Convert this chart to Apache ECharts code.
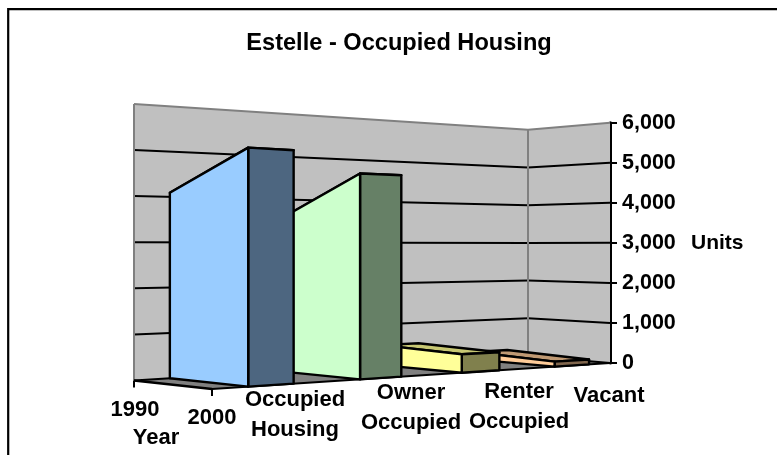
<!DOCTYPE html>
<html>
<head>
<meta charset="utf-8">
<style>html,body{margin:0;padding:0;background:#fff}#c{width:777px;height:455px}</style>
<script src="https://cdn.jsdelivr.net/npm/echarts@6/dist/echarts.min.js"></script>
</head>
<body>
<div id="c"></div>
<script>
// ---- data ----
const years = ['1990', '2000'];
const housingTypes = ['Occupied\nHousing', 'Owner\nOccupied', 'Renter\nOccupied', 'Vacant'];
const values1990 = [4095, 3556, 490, 190];
const values2000 = [4900, 4474, 422, 120];
const valueTicks = [0, 1000, 2000, 3000, 4000, 5000, 6000];
const chartTitle = 'Estelle - Occupied Housing';
const valueAxisName = 'Units';
const yearAxisName = 'Year';

// ---- scene geometry (pixel offsets from the value axis origin) ----
const AXIS_X = 610, BASE_Y = 363;
const floorL = [134 - AXIS_X, 380.5 - BASE_Y];  // 1990, front
const floorN = [212 - AXIS_X, 389 - BASE_Y];    // 2000, front
const floorR = [0, 0];                          // 2000, back
const floorB = [528 - AXIS_X, 356 - BASE_Y];    // 1990, back
const PG = -0.072, PH = 0.223, PC = 0.2;
const SLOT = 0.2535, GAP = 0.077, DEPTH = 0.1;
const FONT = 'Liberation Sans';
const faceColors = [
  {front: '#99ccff', side: '#4d6680', top: '#7399bf'},
  {front: '#ccffcc', side: '#668066', top: '#99bf99'},
  {front: '#ffff99', side: '#80804d', top: '#c8c873'},
  {front: '#ffcc99', side: '#80664d', top: '#bf9973'}
];
const lerp = (a, b, t) => [a[0] + (b[0] - a[0]) * t, a[1] + (b[1] - a[1]) * t];

function projector(api) {
  const o = api.coord([AXIS_X, 0]);
  return function (u, s, v) {
    const f = (1 + PC) * s / (1 + PC * s);
    const p = lerp(lerp(floorL, floorB, f), lerp(floorN, floorR, f), u);
    const top = api.coord([AXIS_X, v]);
    const k = (1 + PG + PH) / (1 + PG * u + PH * s);
    return [o[0] + p[0], o[1] + p[1] - (o[1] - top[1]) * k];
  };
}

function renderWalls(params, api) {
  const P = projector(api);
  const maxV = valueTicks[valueTicks.length - 1];
  const kids = [];
  const poly = (pts, fill) => kids.push({type: 'polygon', shape: {points: pts}, style: {fill: fill}});
  const line = (a, b, c, w) => kids.push({type: 'line', shape: {x1: a[0], y1: a[1], x2: b[0], y2: b[1]},
    style: {stroke: c, lineWidth: w}});
  poly([P(0,0,0), P(1,0,0), P(1,1,0), P(0,1,0)], '#808080');
  poly([P(0,0,0), P(0,1,0), P(0,1,maxV), P(0,0,maxV)], '#c0c0c0');
  poly([P(0,1,0), P(1,1,0), P(1,1,maxV), P(0,1,maxV)], '#c0c0c0');
  valueTicks.forEach(function (t) {
    if (t === 0 || t === maxV) return;
    line(P(0,0,t), P(0,1,t), '#000', 2);
    line(P(0,1,t), P(1,1,t), '#000', 2);
  });
  line(P(0,0,0), P(0,0,maxV), '#808080', 2);
  line(P(0,0,maxV), P(0,1,maxV), '#808080', 2);
  line(P(0,1,maxV), P(1,1,maxV), '#808080', 2);
  line(P(0,1,0), P(0,1,maxV), '#808080', 2);
  line(P(0,0,0), P(0,1,0), '#000', 2);
  line(P(0,1,0), P(1,1,0), '#000', 2);
  line(P(0,0,0), P(1,0,0), '#000', 2.5);
  line(P(1,0,0), P(1,1,0), '#000', 2);
  years.forEach(function (y, i) {
    const a = P(i, 0, 0);
    line(a, [a[0], a[1] + 7], '#000', 2);
  });
  return {type: 'group', children: kids};
}

function renderRibbon(params, api) {
  const P = projector(api);
  const idx = api.value(0), v0 = api.value(1), v1 = api.value(2);
  const s0 = GAP + idx * SLOT, s1 = s0 + DEPTH;
  const c = faceColors[idx];
  const st = {stroke: '#000', lineWidth: 2.4, lineJoin: 'round'};
  const poly = (pts, fill) => ({type: 'polygon', shape: {points: pts}, style: Object.assign({fill: fill}, st)});
  return {type: 'group', children: [
    poly([P(0,s0,v0), P(1,s0,v1), P(1,s1,v1), P(0,s1,v0)], c.top),
    poly([P(1,s0,0), P(1,s1,0), P(1,s1,v1), P(1,s0,v1)], c.side),
    poly([P(0,s0,0), P(1,s0,0), P(1,s0,v1), P(0,s0,v0)], c.front)
  ]};
}

const labelFont = {fontFamily: FONT, fontWeight: 'bold', fontSize: 22, fill: '#000', textAlign: 'center', textVerticalAlign: 'middle', lineHeight: 30};
const yearPos = [[135, 410], [212, 418]];
const typePos = [[295, 415], [411, 408], [519, 407], [609, 396]];
const textEl = (t, p) => ({type: 'text', x: p[0], y: p[1], silent: true, z: 10, style: Object.assign({text: t}, labelFont)});

const chart = echarts.init(document.getElementById('c'), null, {renderer: 'canvas'});
chart.setOption({
  animation: false,
  backgroundColor: '#fff',
  title: {text: chartTitle, left: 399, top: 31, textAlign: 'center', padding: 0,
    textStyle: {fontFamily: FONT, fontWeight: 'bold', fontSize: 23.6, color: '#000'}},
  grid: {left: 0, right: 777 - AXIS_X, top: 122.7, bottom: 455 - BASE_Y},
  xAxis: {type: 'value', min: 0, max: AXIS_X, show: false},
  yAxis: {type: 'value', position: 'right', min: 0, max: 6000, interval: 1000,
    axisLine: {show: true, onZero: false, lineStyle: {color: '#000', width: 3}},
    axisTick: {show: true, length: 7, lineStyle: {color: '#000', width: 2}},
    splitLine: {show: false},
    axisLabel: {color: '#000', fontFamily: FONT, fontWeight: 'bold', fontSize: 21.5, margin: 12, padding: [2, 0, 0, 0],
      formatter: v => v.toLocaleString('en-US')},
    name: valueAxisName, nameLocation: 'middle', nameRotate: 0, nameGap: 81,
    nameTextStyle: {color: '#000', fontFamily: FONT, fontWeight: 'bold', fontSize: 21}
  },
  graphic: [
    {type: 'polyline', silent: true, z: 9, shape: {points: [[8.2, 455], [8.2, 9.2], [777, 9.2]]},
      style: {fill: 'none', stroke: '#000', lineWidth: 2.2}},
    textEl(years[0], yearPos[0]), textEl(years[1], yearPos[1]),
    textEl(yearAxisName, [156, 438]),
    textEl(housingTypes[0], typePos[0]), textEl(housingTypes[1], typePos[1]),
    textEl(housingTypes[2], typePos[2]), textEl(housingTypes[3], typePos[3])
  ],
  series: [
    {type: 'custom', name: 'walls', coordinateSystem: 'cartesian2d', silent: true, clip: false,
      data: [[0, 0]], renderItem: renderWalls, z: 1},
    {type: 'custom', name: 'housing', coordinateSystem: 'cartesian2d', silent: true, clip: false,
      data: housingTypes.map((n, i) => [i, values1990[i], values2000[i]]).reverse(),
      encode: {x: 0, y: 1},
      renderItem: renderRibbon, z: 2}
  ]
});
</script>
</body>
</html>
